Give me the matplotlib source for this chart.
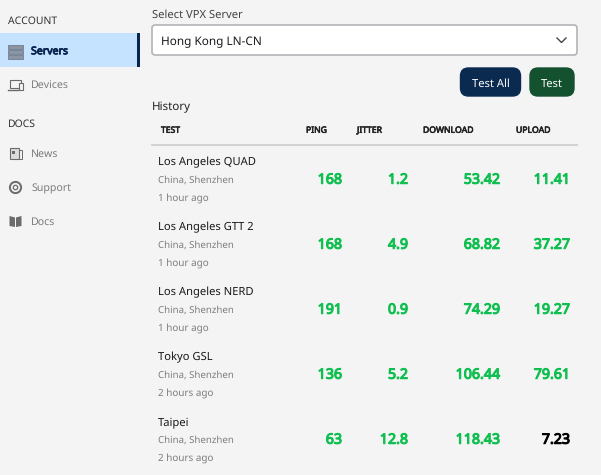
import matplotlib
matplotlib.use('Agg')
import matplotlib.pyplot as plt
import matplotlib.patheffects as pe
from matplotlib.patches import Rectangle, FancyBboxPatch, Circle, Polygon

plt.rcParams['font.family'] = ['Noto Sans', 'DejaVu Sans']
plt.rcParams['text.hinting'] = 'no_hinting'
plt.rcParams['text.hinting_factor'] = 1

# Data
nav_account = ['Servers', 'Devices']
nav_docs = ['News', 'Support', 'Docs']
columns = ['TEST', 'PING', 'JITTER', 'DOWNLOAD', 'UPLOAD']
tests = ['Los Angeles QUAD', 'Los Angeles GTT 2', 'Los Angeles NERD', 'Tokyo GSL', 'Taipei']
location = ['China, Shenzhen'] * 5
ages = ['1 hour ago', '1 hour ago', '1 hour ago', '2 hours ago', '2 hours ago']
ping = ['168', '168', '191', '136', '63']
jitter = ['1.2', '4.9', '0.9', '5.2', '12.8']
download = ['53.42', '68.82', '74.29', '106.44', '118.43']
upload = ['11.41', '37.27', '19.27', '79.61', '7.23']

BG = '#f4f4f4'
GREEN = '#0fbf50'
GREY = '#7d7d7d'
ICON = '#6b6b6b'

fig = plt.figure(figsize=(6.01, 4.75), dpi=100, facecolor=BG)
ax = fig.add_axes([0, 0, 1, 1])
ax.set_xlim(0, 601)
ax.set_ylim(475, 0)
ax.axis('off')


def label(x, y, s, px=12, color='#1a1a1a', bold=0.0, ha='left'):
    # the installed Noto Sans has no bold face here, so thicken the glyphs with a stroke
    t = ax.text(x, y + 2, s, fontsize=px * 0.72, color=color, ha=ha, va='center')
    if bold:
        t.set_path_effects([pe.withStroke(linewidth=bold, foreground=color)])


def round_box(x, y, w, h, r, face, edge, lw=1.0):
    ax.add_patch(FancyBboxPatch((x + r, y + r), w - 2 * r, h - 2 * r,
                                boxstyle=f'round,pad={r}', fc=face, ec=edge, lw=lw))


# sidebar
label(8, 19.5, 'ACCOUNT', 10.4, '#333333')
ax.add_patch(Rectangle((0, 33), 137, 34, fc='#c5e2ff', ec='none'))
ax.add_patch(Rectangle((137, 33), 3, 34, fc='#0a2450', ec='none'))
label(31, 49.5, nav_account[0], 10.6, '#0a2450', 0.6)
label(31, 83.5, nav_account[1], 10.6, GREY)
label(8, 122.5, 'DOCS', 10.4, '#333333')
for name, y in zip(nav_docs, [152.5, 186.5, 220.5]):
    label(31, y, name, 10.6, GREY)

# sidebar icons
for y in [44.5, 49.5, 54.5]:
    ax.add_patch(Rectangle((8, y), 15, 4, fc='#8b95a3', ec='#667080', lw=0.5))
ax.add_patch(Rectangle((10, 80), 11, 8, fc='none', ec=ICON, lw=0.8))
ax.plot([8, 18], [89.5, 89.5], color=ICON, lw=1.0)
ax.add_patch(Rectangle((18.5, 82.5), 4, 7, fc=BG, ec=ICON, lw=0.8))
ax.add_patch(Rectangle((10, 148), 9, 11, fc='#dddddd', ec=ICON, lw=0.8))
ax.add_patch(Rectangle((19, 150), 2.5, 9, fc='none', ec=ICON, lw=0.7))
ax.add_patch(Rectangle((12, 150.5), 3, 3, fc=ICON, ec='none'))
ax.add_patch(Circle((15.5, 187.5), 5.6, fc='none', ec=ICON, lw=1.4))
ax.add_patch(Circle((15.5, 187.5), 2.2, fc='none', ec=ICON, lw=0.9))
ax.add_patch(Polygon([[9.5, 216], [15, 217.5], [15, 227], [9.5, 226]], fc=ICON, ec='none'))
ax.add_patch(Polygon([[21.5, 216], [16, 217.5], [16, 227], [21.5, 226]], fc=ICON, ec='none'))

# server select
label(152, 13, 'Select VPX Server', 11.2, '#444444')
round_box(152, 25, 425, 30, 3, 'white', '#b4b4b8', 1.2)
label(161, 40, 'Hong Kong LN-CN', 11.8, '#1a1a1a')
ax.plot([557, 561.5, 566], [38, 42.5, 38], color='#444444', lw=1.0)

# buttons
round_box(460.5, 68, 60, 28, 8, '#0a2a50', '#0a2a50')
label(490.5, 81.5, 'Test All', 11.2, 'white', ha='center')
round_box(530, 68, 44, 28, 8, '#14512e', '#14512e')
label(552, 81.5, 'Test', 11.2, 'white', ha='center')

# history table
label(152, 105.5, 'History', 11.6, '#222222')
for name, x in zip(columns, [161, 306, 357, 423, 516]):
    label(x, 128.5, name, 8.6, '#222222', 0.45)
ax.plot([152, 577], [144.5, 144.5], color='#d2d2d4', lw=1.4)

for i, test in enumerate(tests):
    top = 160 + 65 * i
    label(158, top, test, 11.2, '#1a1a1a')
    label(158, top + 18, location[i], 9.7, GREY)
    label(158, top + 36, ages[i], 9.9, GREY)
    label(342, top + 18, ping[i], 14.2, GREEN, 0.8, 'right')
    label(408, top + 18, jitter[i], 14.2, GREEN, 0.8, 'right')
    label(500, top + 18, download[i], 14.2, GREEN, 0.8, 'right')
    slow = float(upload[i]) < 10
    label(570, top + 18, upload[i], 14.2, 'black' if slow else GREEN, 0.8, 'right')

fig.savefig('out.png', dpi=100, facecolor=BG)
